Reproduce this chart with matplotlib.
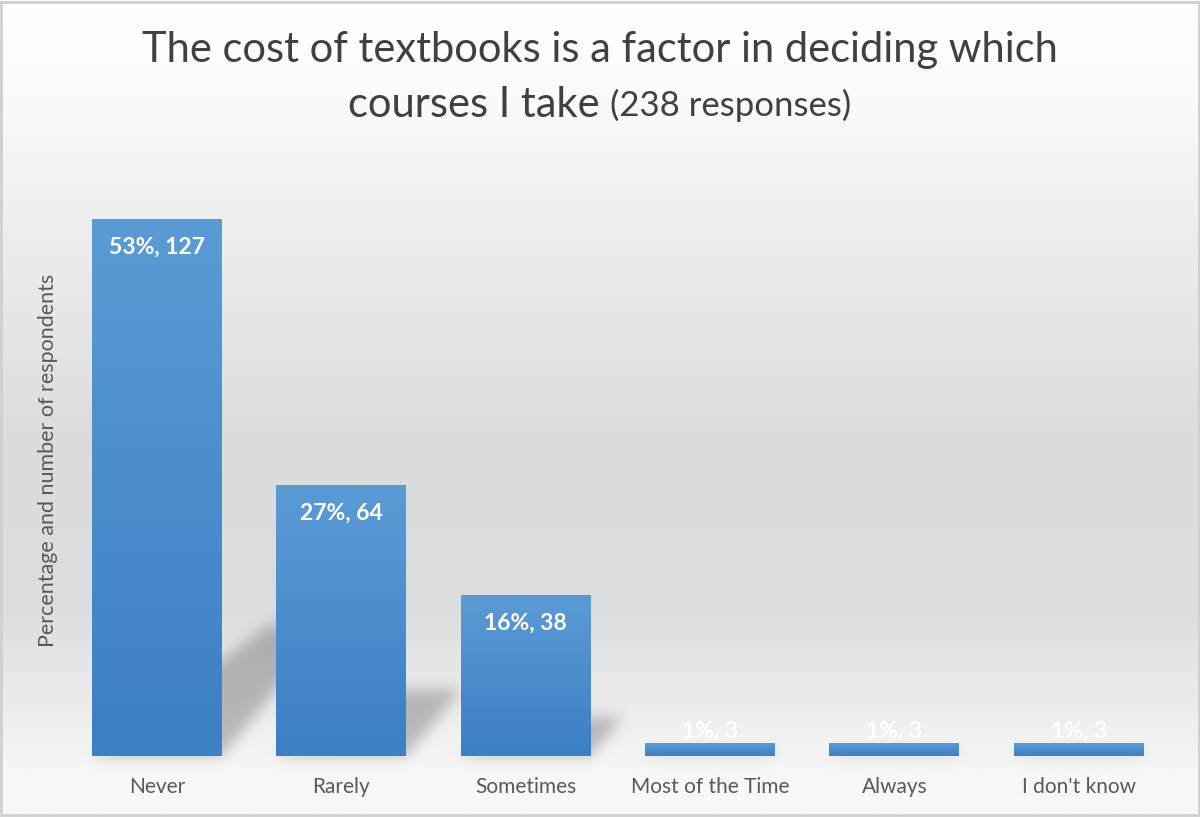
import matplotlib
matplotlib.use("Agg")
import matplotlib.pyplot as plt
from matplotlib.colors import LinearSegmentedColormap
from matplotlib.patches import Polygon, Rectangle
import numpy as np

plt.rcParams["font.family"] = ["Lato", "DejaVu Sans"]

categories = ["Never", "Rarely", "Sometimes", "Most of the Time", "Always", "I don't know"]
counts = [127, 64, 38, 3, 3, 3]
percents = [53, 27, 16, 1, 1, 1]
total = 238

grey_text = "#595959"


def smooth1d(a, sigma):
    r = int(3 * sigma)
    k = np.exp(-0.5 * (np.arange(-r, r + 1) / sigma) ** 2)
    k = k / k.sum()
    return np.convolve(a, k, mode="same")


def blur_filter(img, dpi, sigma=7, color=(0.25, 0.25, 0.27), alpha=0.32):
    pad = int(3 * sigma) + 2
    src = np.pad(img, ((pad, pad), (pad, pad), (0, 0)))
    a = src[:, :, 3] * alpha
    a = np.apply_along_axis(smooth1d, 0, a, sigma)
    a = np.apply_along_axis(smooth1d, 1, a, sigma)
    out = np.empty_like(src)
    out[:, :, 0] = color[0]
    out[:, :, 1] = color[1]
    out[:, :, 2] = color[2]
    out[:, :, 3] = a
    return out, -pad, -pad


fig = plt.figure(figsize=(12, 8.17), dpi=100)

# background gradient
bg = fig.add_axes([0, 0, 1, 1], zorder=-10)
bg_cmap = LinearSegmentedColormap.from_list("bg", [
    (0.0, "#ffffff"), (0.12, "#fafafa"), (0.3, "#ececed"), (0.55, "#dadbdd"),
    (0.75, "#dcdddf"), (0.88, "#eeeeef"), (0.95, "#f7f7f7"), (1.0, "#f7f7f7")])
bg.imshow(np.linspace(0, 1, 400).reshape(-1, 1), cmap=bg_cmap, aspect="auto",
          extent=(0, 1, 1, 0))
bg.set_xlim(0, 1)
bg.set_ylim(1, 0)
bg.axis("off")
bg.add_patch(Rectangle((0.001, 0.002), 0.998, 0.996, fill=False, ec="#cfcfd1", lw=2))

ax = fig.add_axes([0.054, 0.0747, 0.9217, 0.7246])
ax.patch.set_alpha(0)
x = np.arange(len(categories))
width = 0.705

# perspective shadows behind bars
for xi, v in zip(x, counts):
    hs = 0.245 * v
    poly = Polygon([(xi - width / 2, 0), (xi + width / 2, 0),
                    (xi + width / 2 + 0.019 * hs, hs), (xi - width / 2 + 0.031 * hs, hs)],
                   closed=True, fc="black", ec="none", zorder=1)
    poly.set_agg_filter(blur_filter)
    ax.add_patch(poly)

bars = ax.bar(x, counts, width, color="#4a8bcd", zorder=2)
bar_cmap = LinearSegmentedColormap.from_list("bar", ["#3b7fc4", "#5b9bd5"])
grad = np.linspace(0, 1, 256).reshape(-1, 1)
for b in bars:
    x0, y0 = b.get_x(), b.get_y()
    im = ax.imshow(grad, cmap=bar_cmap, aspect="auto", origin="lower",
                   extent=(x0, x0 + b.get_width(), y0, y0 + b.get_height()), zorder=3)
    im.set_clip_path(b)

for b, p, c in zip(bars, percents, counts):
    xc = b.get_x() + b.get_width() / 2
    dy = -20 if c > 15 else 9
    ax.annotate(f"{p}%, {c}", (xc, c), xytext=(0, dy), textcoords="offset points",
                ha="center", va="center", color="white", fontsize=16.5, fontweight="bold",
                zorder=5)

ax.set_xlim(-0.5, len(categories) - 0.5)
ax.set_ylim(0, 140)
ax.set_xticks(x)
ax.set_xticklabels(categories, fontsize=15, color=grey_text)
ax.tick_params(axis="x", length=0, pad=15)
ax.set_yticks([])
for s in ax.spines.values():
    s.set_visible(False)

fig.text(0.04, 0.437, "Percentage and number of respondents", rotation=90,
         ha="center", va="center", fontsize=15.5, color=grey_text)

# title, second line mixes two sizes
title_col = "#404040"
fig.text(0.5, 0.939, "The cost of textbooks is a factor in deciding which",
         ha="center", va="center", fontsize=30, color=title_col)
fig.canvas.draw()
r = fig.canvas.get_renderer()
t1 = fig.text(0, 0.871, "courses I take ", ha="left", va="center", fontsize=30, color=title_col)
t2 = fig.text(0, 0.871, f"({total} responses)", ha="left", va="center", fontsize=25,
              color=title_col)
w1 = t1.get_window_extent(r).width / fig.bbox.width
w2 = t2.get_window_extent(r).width / fig.bbox.width
start = 0.5 - (w1 + w2) / 2
t1.set_x(start)
t2.set_x(start + w1)

fig.savefig("out.png", dpi=100)
